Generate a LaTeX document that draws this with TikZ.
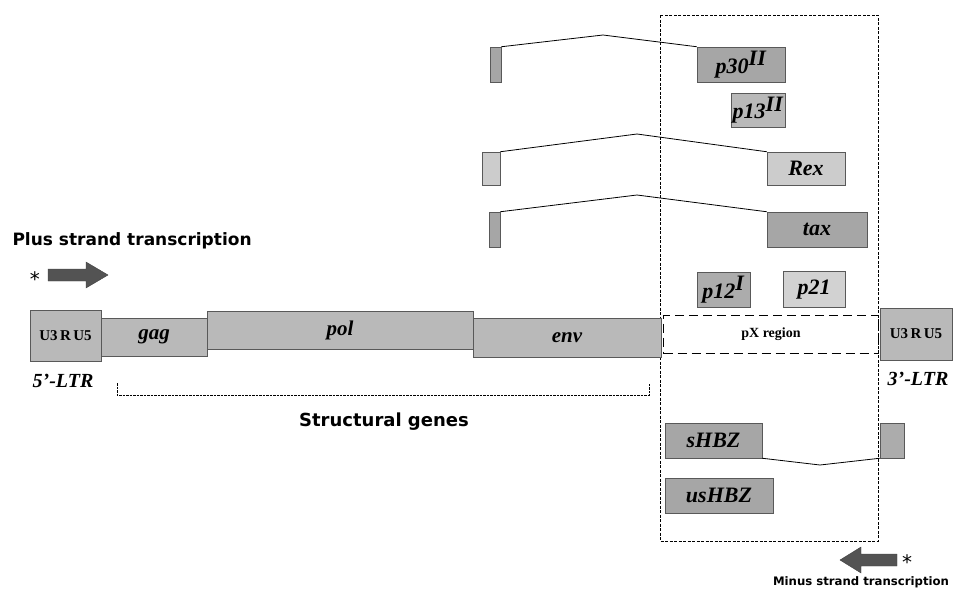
\documentclass[tikz,border=0pt]{standalone}
\usepackage{fontspec}
\setmainfont{Liberation Serif}
\setsansfont{DejaVu Sans}
\begin{document}
\begin{tikzpicture}[x=1pt,y=-1pt,
  gbox/.style={draw=gray!70!black, line width=0.5pt, fill=#1, inner sep=0pt, font=\bfseries\itshape\fontsize{22}{22}\selectfont},
  gbox/.default={gray!60},
  genefont/.style={font=\bfseries\itshape\fontsize{21}{21}\selectfont},
  ltrbox/.style={draw=gray!70!black, line width=0.5pt, fill=gray!55, inner sep=0pt, font=\bfseries\fontsize{15}{15}\selectfont},
  splice/.style={line width=0.8pt, black},
  dashbox/.style={draw, line width=0.8pt, dash pattern=on 3pt off 1.5pt},
  bigdash/.style={draw, line width=0.9pt, dash pattern=on 9pt off 5pt},
  ltrlab/.style={font=\bfseries\itshape\fontsize{20}{20}\selectfont},
  sanslab/.style={font=\sffamily\bfseries\fontsize{#1}{#1}\selectfont},
  starlab/.style={font=\sffamily\fontsize{20}{20}\selectfont, inner sep=0pt, anchor=base, text depth=0pt, text height=15pt},
  fatarrow/.style={fill=gray!65!black, draw=gray!50!black, line width=0.4pt}
]
\useasboundingbox (0,0) rectangle (954,592);

% big dashed box (pX)
\draw[dashbox] (660,15) rectangle (878,541);

% genome
\node[ltrbox, minimum width=71pt, minimum height=51pt] (ltr5) at (65.5,335.5) {U3\,R\,U5};
\node[gbox={gray!55}, genefont, minimum width=106pt, minimum height=38pt] (gag) at (154,337) {gag};
\node[gbox={gray!55}, genefont, minimum width=266pt, minimum height=38pt] (pol) at (340,330) {pol};
\node[gbox={gray!55}, genefont, minimum width=188pt, minimum height=39pt] (env) at (567,337.5) {env};
\node[bigdash, minimum width=215pt, minimum height=38pt, inner sep=0pt, font=\bfseries\fontsize{14}{14}\selectfont] (px) at (771,334.5) {pX region};
\node[ltrbox, minimum width=72pt, minimum height=52pt] (ltr3) at (916,334) {U3\,R\,U5};
\node[ltrlab] (l5) at (63,381) {5'-LTR};
\node[ltrlab] (l3) at (918,379) {3'-LTR};

% structural genes bracket
\coordinate (sg1) at (117,383);
\coordinate (sg2) at (117,395);
\coordinate (sg3) at (649,395);
\coordinate (sg4) at (649,383);
\draw[line width=0.7pt, dash pattern=on 2.5pt off 1pt] (sg1) -- (sg2) -- (sg3) -- (sg4);
\node[sanslab=18] (sglab) at (384,422) {Structural genes};

% plus strand
\node[sanslab=17, anchor=west] (plus) at (9,241) {Plus strand transcription};
\node[starlab] (star1) at (35,286) {*};
\draw[fatarrow] (48,269) -- (86,269) -- (86,262) -- (108,275) -- (86,288) -- (86,281) -- (48,281) -- cycle;

% minus strand
\node[sanslab=11.7] (minus) at (861,582) {Minus strand transcription};
\node[starlab] (star2) at (907,569) {*};
\draw[fatarrow] (897,554) -- (861,554) -- (861,547) -- (840,560) -- (861,573) -- (861,566) -- (897,566) -- cycle;

% p30 / p13
\node[gbox={gray!70}, minimum width=11pt, minimum height=35pt] (e30) at (495.5,64.5) {};
\node[gbox={gray!70}, minimum width=88pt, minimum height=35pt] (p30) at (741,64.5) {p30$^{\textbf{\textit{II}}}$};
\node[gbox={gray!55}, minimum width=54pt, minimum height=34pt] (p13) at (758,110) {p13$^{\textbf{\textit{II}}}$};
\coordinate (k30) at (603,35);
\draw[splice] (e30.north east) -- (k30) -- (p30.north west);

% Rex
\node[gbox={gray!40}, minimum width=18pt, minimum height=33pt] (eRex) at (491,168.5) {};
\node[gbox={gray!40}, minimum width=78pt, minimum height=33pt] (rex) at (806,168.5) {Rex};
\coordinate (kRex) at (637,134);
\draw[splice] (eRex.north east) -- (kRex) -- (rex.north west);

% tax
\node[gbox={gray!70}, minimum width=11pt, minimum height=35pt] (etax) at (494.5,229.5) {};
\node[gbox={gray!70}, minimum width=100pt, minimum height=35pt] (tax) at (817,229.5) {tax};
\coordinate (ktax) at (637,195);
\draw[splice] (etax.north east) -- (ktax) -- (tax.north west);

% p12 / p21
\node[gbox={gray!65}, minimum width=53pt, minimum height=35pt] (p12) at (723.5,289.5) {p12$^{\textbf{\textit{I}}}$};
\node[gbox={gray!35}, minimum width=62pt, minimum height=36pt] (p21) at (814,289.5) {p21};

% HBZ
\node[gbox={gray!70}, minimum width=97pt, minimum height=35pt] (shbz) at (713.5,440.5) {sHBZ};
\node[gbox={gray!65}, minimum width=24pt, minimum height=35pt] (ehbz) at (892,440.5) {};
\coordinate (khbz) at (820,465);
\draw[splice] (shbz.south east) -- (khbz) -- (ehbz.south west);
\node[gbox={gray!70}, minimum width=108pt, minimum height=35pt] (ushbz) at (719,495.5) {usHBZ};
\end{tikzpicture}
\end{document}
